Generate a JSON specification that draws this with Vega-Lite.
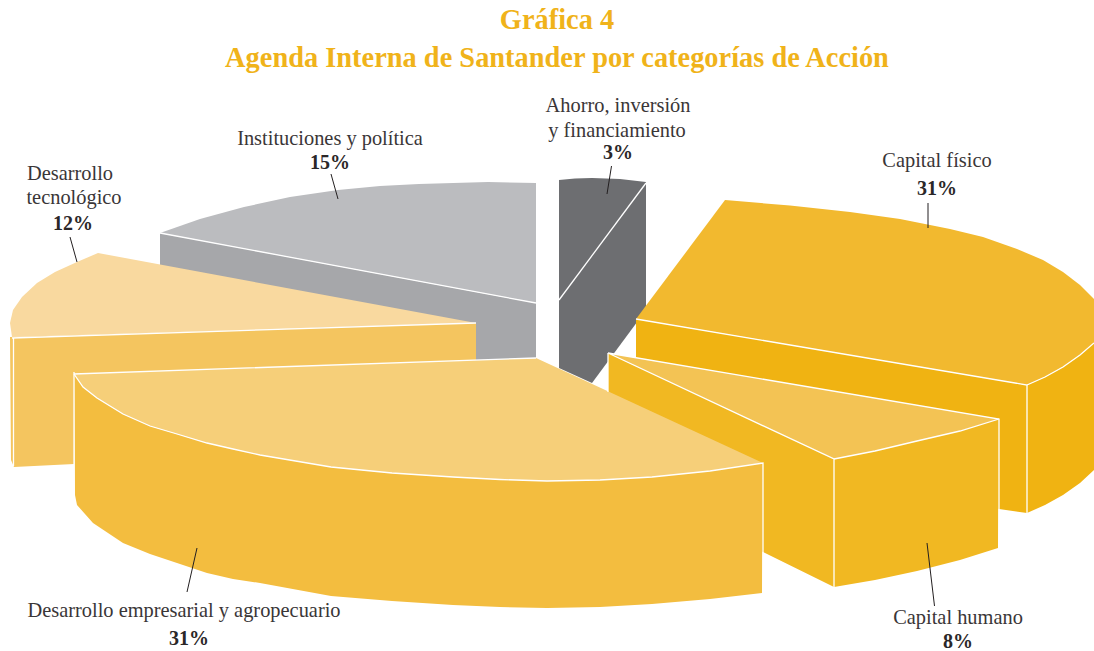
{"$schema":"https://vega.github.io/schema/vega-lite/v6.json","autosize":"none","padding":{"top":80,"left":0,"right":0,"bottom":0},"width":1094,"height":571,"background":"white","view":{"stroke":null},
"title":{"text":["Gráfica 4","Agenda Interna de Santander por categorías de Acción"],"font":"Liberation Serif","fontSize":28.4,"fontWeight":"bold","color":"#F0B31A","anchor":"middle","dx":10,"lineHeight":38,"offset":7},
"datasets":{
"faces":[
{"face":"inst_side","i":1,"x":160,"y":233},{"face":"inst_side","i":2,"x":536,"y":303},{"face":"inst_side","i":3,"x":536,"y":358},{"face":"inst_side","i":4,"x":475,"y":361},{"face":"inst_side","i":5,"x":160,"y":300},
{"face":"inst_top","i":1,"x":160,"y":233},{"face":"inst_top","i":2,"x":200,"y":219},{"face":"inst_top","i":3,"x":244,"y":207},{"face":"inst_top","i":4,"x":290,"y":197},{"face":"inst_top","i":5,"x":338,"y":190},{"face":"inst_top","i":6,"x":380,"y":186},{"face":"inst_top","i":7,"x":419,"y":184},{"face":"inst_top","i":8,"x":488,"y":182},{"face":"inst_top","i":9,"x":536,"y":183},{"face":"inst_top","i":10,"x":536,"y":303},
{"face":"ahorro","i":1,"x":559,"y":180},{"face":"ahorro","i":2,"x":575,"y":178.5},{"face":"ahorro","i":3,"x":592,"y":178},{"face":"ahorro","i":4,"x":620,"y":179},{"face":"ahorro","i":5,"x":646,"y":182},{"face":"ahorro","i":6,"x":646,"y":310},{"face":"ahorro","i":7,"x":592,"y":383},{"face":"ahorro","i":8,"x":559,"y":368},
{"face":"tec_side","i":1,"x":10,"y":337},{"face":"tec_side","i":2,"x":476,"y":323},{"face":"tec_side","i":3,"x":476,"y":361},{"face":"tec_side","i":4,"x":74,"y":380},{"face":"tec_side","i":5,"x":74,"y":464},{"face":"tec_side","i":6,"x":14,"y":467},{"face":"tec_side","i":7,"x":11,"y":460},
{"face":"tec_top","i":1,"x":98,"y":253},{"face":"tec_top","i":2,"x":77,"y":262},{"face":"tec_top","i":3,"x":55,"y":272},{"face":"tec_top","i":4,"x":37,"y":283},{"face":"tec_top","i":5,"x":22,"y":297},{"face":"tec_top","i":6,"x":13,"y":310},{"face":"tec_top","i":7,"x":10,"y":323},{"face":"tec_top","i":8,"x":12,"y":337},{"face":"tec_top","i":9,"x":476,"y":323},
{"face":"fis_side","i":1,"x":636,"y":319},{"face":"fis_side","i":2,"x":1027,"y":385},{"face":"fis_side","i":3,"x":1045,"y":377},{"face":"fis_side","i":4,"x":1063,"y":367},{"face":"fis_side","i":5,"x":1080,"y":355},{"face":"fis_side","i":6,"x":1094,"y":343},{"face":"fis_side","i":7,"x":1094,"y":470},{"face":"fis_side","i":8,"x":1080,"y":483},{"face":"fis_side","i":9,"x":1063,"y":495},{"face":"fis_side","i":10,"x":1045,"y":505},{"face":"fis_side","i":11,"x":1027,"y":513},{"face":"fis_side","i":12,"x":999,"y":509},{"face":"fis_side","i":13,"x":636,"y":400},
{"face":"fis_top","i":1,"x":636,"y":319},{"face":"fis_top","i":2,"x":725,"y":200},{"face":"fis_top","i":3,"x":790,"y":205.5},{"face":"fis_top","i":4,"x":850,"y":212},{"face":"fis_top","i":5,"x":900,"y":219},{"face":"fis_top","i":6,"x":950,"y":229},{"face":"fis_top","i":7,"x":983,"y":237},{"face":"fis_top","i":8,"x":1017,"y":249},{"face":"fis_top","i":9,"x":1043,"y":260},{"face":"fis_top","i":10,"x":1063,"y":272},{"face":"fis_top","i":11,"x":1080,"y":285},{"face":"fis_top","i":12,"x":1094,"y":299},{"face":"fis_top","i":13,"x":1094,"y":343},{"face":"fis_top","i":14,"x":1080,"y":355},{"face":"fis_top","i":15,"x":1063,"y":367},{"face":"fis_top","i":16,"x":1045,"y":377},{"face":"fis_top","i":17,"x":1027,"y":385},
{"face":"hum_side","i":1,"x":608,"y":353},{"face":"hum_side","i":2,"x":834,"y":459},{"face":"hum_side","i":3,"x":875,"y":451},{"face":"hum_side","i":4,"x":917,"y":441},{"face":"hum_side","i":5,"x":960,"y":431},{"face":"hum_side","i":6,"x":999,"y":419},{"face":"hum_side","i":7,"x":998,"y":548},{"face":"hum_side","i":8,"x":960,"y":560},{"face":"hum_side","i":9,"x":917,"y":571},{"face":"hum_side","i":10,"x":875,"y":580},{"face":"hum_side","i":11,"x":834,"y":587},{"face":"hum_side","i":12,"x":763,"y":552},{"face":"hum_side","i":13,"x":608,"y":480},
{"face":"hum_top","i":1,"x":608,"y":353},{"face":"hum_top","i":2,"x":999,"y":419},{"face":"hum_top","i":3,"x":960,"y":431},{"face":"hum_top","i":4,"x":917,"y":441},{"face":"hum_top","i":5,"x":875,"y":451},{"face":"hum_top","i":6,"x":834,"y":459},
{"face":"emp_side","i":1,"x":74,"y":374},{"face":"emp_side","i":2,"x":83,"y":387},{"face":"emp_side","i":3,"x":97,"y":398},{"face":"emp_side","i":4,"x":123,"y":414},{"face":"emp_side","i":5,"x":150,"y":426},{"face":"emp_side","i":6,"x":177,"y":434},{"face":"emp_side","i":7,"x":207,"y":443},{"face":"emp_side","i":8,"x":233,"y":449},{"face":"emp_side","i":9,"x":260,"y":455},{"face":"emp_side","i":10,"x":331,"y":467},{"face":"emp_side","i":11,"x":392,"y":473},{"face":"emp_side","i":12,"x":453,"y":477},{"face":"emp_side","i":13,"x":500,"y":479.5},{"face":"emp_side","i":14,"x":547,"y":481},{"face":"emp_side","i":15,"x":600,"y":480},{"face":"emp_side","i":16,"x":652,"y":477},{"face":"emp_side","i":17,"x":710,"y":471},{"face":"emp_side","i":18,"x":763,"y":463},{"face":"emp_side","i":19,"x":762,"y":593},{"face":"emp_side","i":20,"x":710,"y":599},{"face":"emp_side","i":21,"x":652,"y":604},{"face":"emp_side","i":22,"x":600,"y":607},{"face":"emp_side","i":23,"x":547,"y":608},{"face":"emp_side","i":24,"x":500,"y":607},{"face":"emp_side","i":25,"x":453,"y":605},{"face":"emp_side","i":26,"x":392,"y":601},{"face":"emp_side","i":27,"x":331,"y":596},{"face":"emp_side","i":28,"x":260,"y":583},{"face":"emp_side","i":29,"x":233,"y":579},{"face":"emp_side","i":30,"x":207,"y":573},{"face":"emp_side","i":31,"x":177,"y":563},{"face":"emp_side","i":32,"x":150,"y":554},{"face":"emp_side","i":33,"x":123,"y":543},{"face":"emp_side","i":34,"x":93,"y":523},{"face":"emp_side","i":35,"x":77,"y":505},{"face":"emp_side","i":36,"x":75,"y":495},
{"face":"emp_top","i":1,"x":536,"y":358},{"face":"emp_top","i":2,"x":74,"y":374},{"face":"emp_top","i":3,"x":83,"y":387},{"face":"emp_top","i":4,"x":97,"y":398},{"face":"emp_top","i":5,"x":123,"y":414},{"face":"emp_top","i":6,"x":150,"y":426},{"face":"emp_top","i":7,"x":177,"y":434},{"face":"emp_top","i":8,"x":207,"y":443},{"face":"emp_top","i":9,"x":233,"y":449},{"face":"emp_top","i":10,"x":260,"y":455},{"face":"emp_top","i":11,"x":331,"y":467},{"face":"emp_top","i":12,"x":392,"y":473},{"face":"emp_top","i":13,"x":453,"y":477},{"face":"emp_top","i":14,"x":500,"y":479.5},{"face":"emp_top","i":15,"x":547,"y":481},{"face":"emp_top","i":16,"x":600,"y":480},{"face":"emp_top","i":17,"x":652,"y":477},{"face":"emp_top","i":18,"x":710,"y":471},{"face":"emp_top","i":19,"x":763,"y":463}
],
"edges":[
{"e":"a1","i":1,"x":559,"y":300},{"e":"a1","i":2,"x":646,"y":183},
{"e":"i1","i":1,"x":160,"y":233},{"e":"i1","i":2,"x":536,"y":303},
{"e":"t1","i":1,"x":12,"y":338},{"e":"t1","i":2,"x":476,"y":323},
{"e":"t2","i":1,"x":13.5,"y":338},{"e":"t2","i":2,"x":13.5,"y":466},
{"e":"f1","i":1,"x":636,"y":319},{"e":"f1","i":2,"x":1027,"y":385},{"e":"f1","i":3,"x":1027,"y":513},
{"e":"f2","i":1,"x":1027,"y":385},{"e":"f2","i":2,"x":1045,"y":377},{"e":"f2","i":3,"x":1063,"y":367},{"e":"f2","i":4,"x":1080,"y":355},{"e":"f2","i":5,"x":1094,"y":343},
{"e":"h1","i":1,"x":999,"y":548},{"e":"h1","i":2,"x":999,"y":419},{"e":"h1","i":3,"x":608,"y":353},{"e":"h1","i":4,"x":834,"y":459},{"e":"h1","i":5,"x":834,"y":587},
{"e":"h2","i":1,"x":834,"y":459},{"e":"h2","i":2,"x":875,"y":451},{"e":"h2","i":3,"x":917,"y":441},{"e":"h2","i":4,"x":960,"y":431},{"e":"h2","i":5,"x":999,"y":419},
{"e":"h3","i":1,"x":608,"y":353},{"e":"h3","i":2,"x":608,"y":392},
{"e":"m1","i":1,"x":74,"y":495},{"e":"m1","i":2,"x":74,"y":372},{"e":"m1","i":3,"x":74,"y":374},{"e":"m1","i":4,"x":536,"y":358},
{"e":"m2","i":1,"x":74,"y":374},{"e":"m2","i":2,"x":83,"y":387},{"e":"m2","i":3,"x":97,"y":398},{"e":"m2","i":4,"x":123,"y":414},{"e":"m2","i":5,"x":150,"y":426},{"e":"m2","i":6,"x":177,"y":434},{"e":"m2","i":7,"x":207,"y":443},{"e":"m2","i":8,"x":233,"y":449},{"e":"m2","i":9,"x":260,"y":455},{"e":"m2","i":10,"x":331,"y":467},{"e":"m2","i":11,"x":392,"y":473},{"e":"m2","i":12,"x":453,"y":477},{"e":"m2","i":13,"x":500,"y":479.5},{"e":"m2","i":14,"x":547,"y":481},{"e":"m2","i":15,"x":600,"y":480},{"e":"m2","i":16,"x":652,"y":477},{"e":"m2","i":17,"x":710,"y":471},{"e":"m2","i":18,"x":763,"y":463},{"e":"m2","i":19,"x":763,"y":593}
],
"leaders":[
{"c":"Instituciones y política","i":1,"x":331,"y":174},{"c":"Instituciones y política","i":2,"x":338,"y":199},
{"c":"Desarrollo tecnológico","i":1,"x":70,"y":237},{"c":"Desarrollo tecnológico","i":2,"x":77,"y":262},
{"c":"Ahorro, inversión y financiamiento","i":1,"x":611.5,"y":166},{"c":"Ahorro, inversión y financiamiento","i":2,"x":607,"y":194},
{"c":"Capital físico","i":1,"x":928,"y":203},{"c":"Capital físico","i":2,"x":928,"y":228},
{"c":"Desarrollo empresarial y agropecuario","i":1,"x":197,"y":548},{"c":"Desarrollo empresarial y agropecuario","i":2,"x":187,"y":592},
{"c":"Capital humano","i":1,"x":927,"y":543},{"c":"Capital humano","i":2,"x":934.5,"y":606}
],
"names":[
{"t":"Ahorro, inversión","x":618,"y":112},{"t":"y financiamiento","x":617,"y":137},
{"t":"Capital físico","x":937,"y":167},
{"t":"Instituciones y política","x":330,"y":145},
{"t":"Desarrollo","x":70,"y":180},{"t":"tecnológico","x":74,"y":204},
{"t":"Desarrollo empresarial y agropecuario","x":184,"y":617},
{"t":"Capital humano","x":958,"y":624}
],
"values":[
{"category":"Ahorro, inversión y financiamiento","pct":"3%","x":618,"y":159},
{"category":"Capital físico","pct":"31%","x":937,"y":195},
{"category":"Instituciones y política","pct":"15%","x":330,"y":169},
{"category":"Desarrollo tecnológico","pct":"12%","x":73,"y":230},
{"category":"Desarrollo empresarial y agropecuario","pct":"31%","x":189,"y":645},
{"category":"Capital humano","pct":"8%","x":958,"y":648}
]},
"resolve":{"scale":{"color":"independent"}},
"encoding":{"x":{"field":"x","type":"quantitative","scale":{"domain":[0,1094],"nice":false,"zero":false},"axis":null},"y":{"field":"y","type":"quantitative","scale":{"domain":[651,80],"nice":false,"zero":false},"axis":null}},
"layer":[
{"data":{"name":"faces"},"mark":{"type":"line","filled":true,"strokeWidth":0,"clip":false},"encoding":{"order":{"field":"i","type":"quantitative"},"color":{"field":"face","type":"nominal","legend":null,"sort":null,"scale":{"domain":["inst_side","inst_top","ahorro","tec_side","tec_top","fis_side","fis_top","hum_side","hum_top","emp_side","emp_top"],"range":["#A6A7AA","#BBBCBF","#6D6E71","#F4C55F","#F9D99F","#F0B312","#F2B92F","#F1B822","#F3C354","#F3BD3F","#F6CF79"]}}}},
{"data":{"name":"edges"},"mark":{"type":"line","color":"white","strokeWidth":1.3},"encoding":{"detail":{"field":"e"},"order":{"field":"i","type":"quantitative"}}},
{"data":{"name":"leaders"},"mark":{"type":"line","color":"#231F20","strokeWidth":1},"encoding":{"detail":{"field":"c"},"order":{"field":"i","type":"quantitative"}}},
{"data":{"name":"names"},"mark":{"type":"text","font":"Liberation Serif","fontSize":20.4,"color":"#3A3637","align":"center","baseline":"alphabetic"},"encoding":{"text":{"field":"t"}}},
{"data":{"name":"values"},"mark":{"type":"text","font":"Liberation Serif","fontSize":20,"fontWeight":"bold","color":"#2B2728","align":"center","baseline":"alphabetic"},"encoding":{"text":{"field":"pct"}}}
]}
